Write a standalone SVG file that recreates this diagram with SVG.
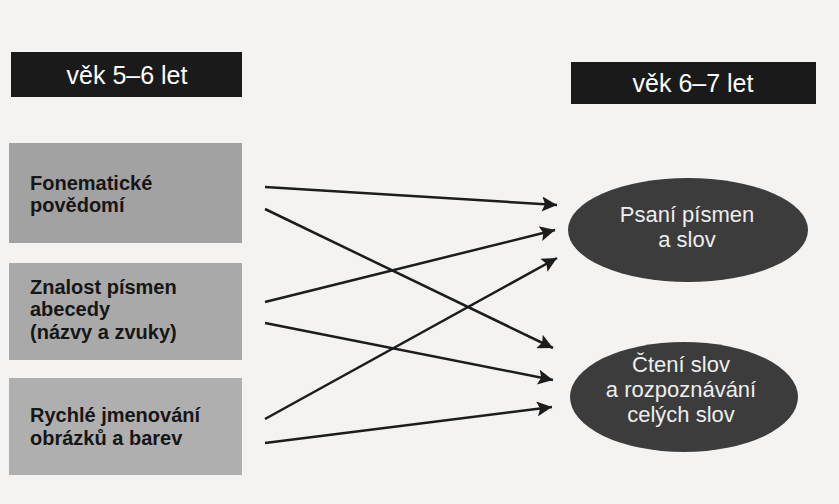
<svg xmlns="http://www.w3.org/2000/svg" width="839" height="504" viewBox="0 0 839 504">
<defs>
<marker id="ah" viewBox="0 0 10 10" refX="10" refY="5" markerWidth="8" markerHeight="6" markerUnits="strokeWidth" orient="auto">
<path d="M0,0 L10,5 L0,10 L2,5 z" fill="#1c1c1c"/>
</marker>
</defs>
<style>
.hdr{fill:#1a1a1a}
.hdrt{fill:#ffffff;font-family:"Liberation Sans",Arial,sans-serif;font-size:25px;text-anchor:middle}
.box{fill:#a9a9a9}
.boxt{fill:#161616;font-family:"Liberation Sans",Arial,sans-serif;font-size:20px;font-weight:bold}
.ell{fill:#3c3c3c}
.ellt{fill:#eeeeee;font-family:"Liberation Sans",Arial,sans-serif;font-size:22px;text-anchor:middle}
.conn{stroke:#1c1c1c;stroke-width:2.5;fill:none;marker-end:url(#ah)}
</style>
<rect width="839" height="504" fill="#f4f3f1"/>
<g id="hdr-left"><rect class="hdr" x="11" y="52" width="231" height="45"/><text class="hdrt" x="127" y="84">věk 5–6 let</text></g>
<g id="hdr-right"><rect class="hdr" x="571" y="62" width="245" height="42"/><text class="hdrt" x="693" y="92">věk 6–7 let</text></g>
<g id="n-fon"><rect class="box" x="9" y="143" width="233" height="100" style="fill:#a2a2a2"/><text class="boxt" x="30" y="189.5">Fonematické</text><text class="boxt" x="30" y="212">povědomí</text></g>
<g id="n-zna"><rect class="box" x="9" y="263" width="233" height="97"/><text class="boxt" x="30" y="293.5">Znalost písmen</text><text class="boxt" x="30" y="316">abecedy</text><text class="boxt" x="30" y="338.5">(názvy a zvuky)</text></g>
<g id="n-ryc"><rect class="box" x="9" y="378" width="233" height="97" style="fill:#afafaf"/><text class="boxt" x="30" y="422">Rychlé jmenování</text><text class="boxt" x="30" y="444.5">obrázků a barev</text></g>
<g id="n-psani"><ellipse class="ell" cx="688" cy="230" rx="120" ry="52"/><text class="ellt" x="687" y="222">Psaní písmen</text><text class="ellt" x="687" y="247">a slov</text></g>
<g id="n-cteni"><ellipse class="ell" cx="684" cy="397" rx="114" ry="55"/><text class="ellt" x="681" y="372">Čtení slov</text><text class="ellt" x="681" y="397">a rozpoznávání</text><text class="ellt" x="681" y="422">celých slov</text></g>
<g id="connectors">
<line class="conn" x1="265" y1="187" x2="557" y2="205"/>
<line class="conn" x1="265" y1="209" x2="553" y2="348"/>
<line class="conn" x1="265" y1="302" x2="555" y2="230"/>
<line class="conn" x1="265" y1="323" x2="553" y2="380"/>
<line class="conn" x1="265" y1="419" x2="557" y2="258"/>
<line class="conn" x1="265" y1="443" x2="552" y2="407"/>
</g>
</svg>
